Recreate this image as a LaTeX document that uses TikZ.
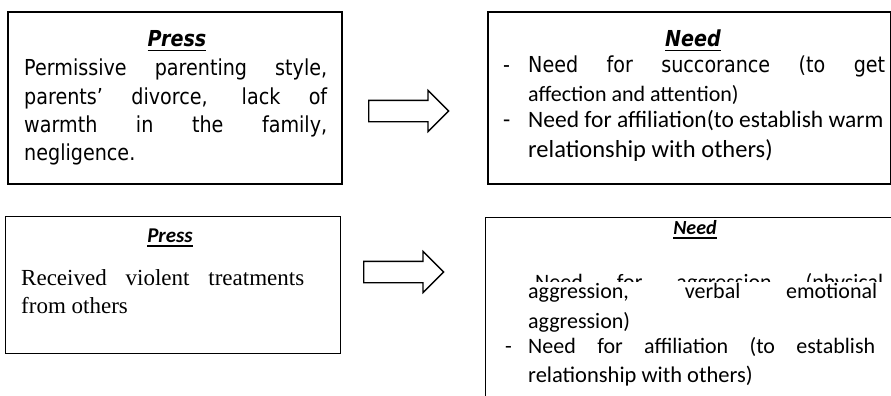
\documentclass[tikz,border=0pt]{standalone}
\usepackage{fontspec}
\setmainfont{Liberation Serif}
\newfontfamily\tahoma[FakeStretch=0.87]{DejaVu Sans}
\newfontfamily\calibri{Carlito}
\usetikzlibrary{shapes.arrows}

\newsavebox{\headbox}
\newcommand{\headtext}[1]{\sbox{\headbox}{#1}\rlap{\rule[-4.5pt]{\wd\headbox}{1.7pt}}\usebox{\headbox}}
\newcommand{\spread}[2]{\makebox[#1][s]{#2}}

\begin{document}
\begin{tikzpicture}[x=1pt, y=-1pt,
    box/.style={draw, anchor=north west, inner sep=0pt},
    thickbox/.style={box, line width=2pt},
    thinbox/.style={box, line width=1.2pt},
    head/.style={anchor=base, inner sep=0pt},
    txt/.style={anchor=base west, inner sep=0pt},
    tahomabody/.style={font=\tahoma\fontsize{22}{26}\selectfont},
    calbody/.style={font=\calibri\fontsize{#1}{26}\selectfont},
    calbody/.default=22,
    timesbody/.style={font=\fontsize{23}{28}\selectfont},
    fatarrow/.style={draw, line width=1.3pt, single arrow, single arrow head extend=10pt,
                     inner xsep=0pt, inner ysep=10pt, minimum height=80pt, minimum width=40pt, anchor=tail}
  ]
  \useasboundingbox (0,0) rectangle (891,396);
  \clip (0,0) rectangle (891,396);

  % boxes
  \node[thickbox, minimum width=334pt, minimum height=172pt] (pressA) at (7,11) {};
  \node[thickbox, minimum width=403pt, minimum height=172pt] (needA) at (487,11) {};
  \node[thinbox, minimum width=335pt, minimum height=137pt] (pressB) at (5,216) {};
  \node[thinbox, minimum width=430pt, minimum height=200pt] (needB) at (485,217) {};

  % arrows
  \node[fatarrow] (arrowA) at (368,111) {};
  \node[fatarrow] (arrowB) at (363,272) {};

  % first row: press
  \node[head, font=\tahoma\fontsize{22}{26}\selectfont\bfseries\itshape] (pressAhead) at (177,47) {\headtext{Press}};
  \foreach \n/\y/\words in {1/75/{Permissive parenting style,}, 2/104/{parents’ divorce, lack of},
                            3/132/{warmth in the family,}}
    \node[txt, tahomabody] (pressA\n) at (24,\y) {\spread{303pt}{\words}};
  \node[txt, tahomabody] (pressA4) at (24,160) {negligence.};

  % first row: need
  \node[head, font=\tahoma\fontsize{22}{26}\selectfont\bfseries\itshape] (needAhead) at (693,47) {\headtext{Need}};
  \node[txt, tahomabody] (needAdash1) at (503,73) {-};
  \node[txt, tahomabody] (needA1) at (528,73) {\spread{357pt}{Need for succorance (to get}};
  \node[txt, calbody] (needA2) at (528,101) {affection and attention)};
  \node[txt, calbody=23.5] (needAdash2) at (503,127) {-};
  \node[txt, calbody=23.5] (needA3) at (528,127) {Need for affiliation(to establish warm};
  \node[txt, calbody=24.5] (needA4) at (528,157) {relationship with others)};

  % second row: press
  \node[head, font=\calibri\fontsize{21}{26}\selectfont\bfseries\itshape] (pressBhead) at (170,242) {\headtext{Press}};
  \node[txt, timesbody] (pressB1) at (21,285) {\spread{283pt}{Received violent treatments}};
  \node[txt, timesbody] (pressB2) at (21,313) {from others};

  % second row: need
  \node[head, font=\calibri\fontsize{20}{26}\selectfont\bfseries\itshape] (needBhead) at (695,234) {\headtext{Need}};
  \begin{scope}
    \clip (487,272) rectangle (891,281.5);
    \node[txt, calbody] (needB0) at (535,289) {\spread{348pt}{Need for aggression (physical}};
  \end{scope}
  \node[txt, calbody] (needB1) at (528,298) {\spread{349pt}{aggression, verbal emotional}};
  \node[txt, calbody] (needB2) at (528,328) {aggression)};
  \node[txt, calbody] (needBdash) at (505,353) {-};
  \node[txt, calbody] (needB3) at (528,353) {\spread{347pt}{Need for affiliation (to establish}};
  \node[txt, calbody=22.5] (needB4) at (528,382) {relationship with others)};
\end{tikzpicture}
\end{document}
